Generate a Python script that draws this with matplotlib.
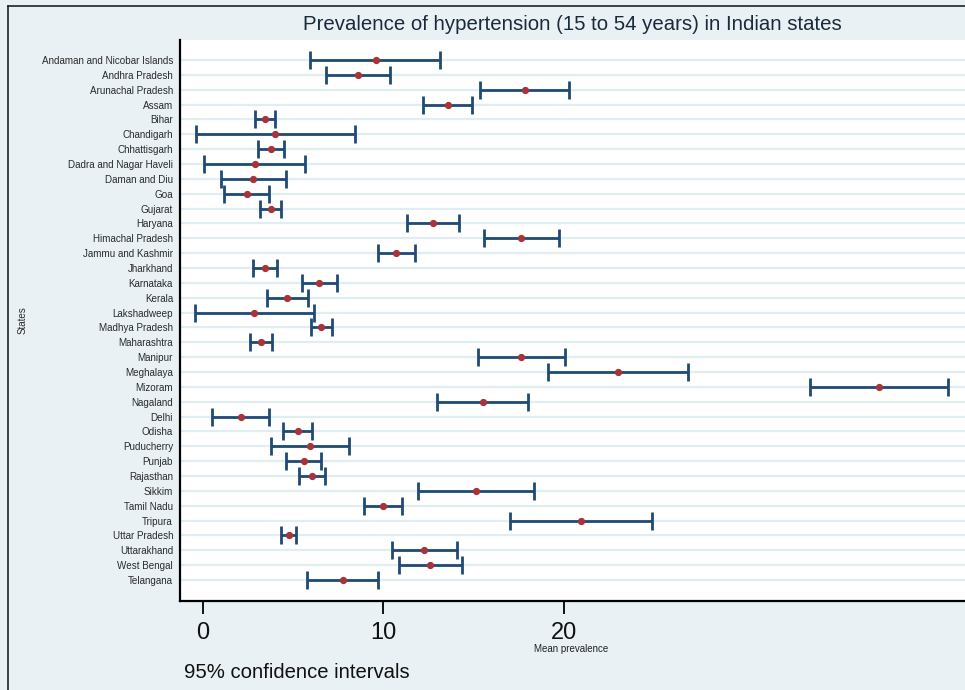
import matplotlib
matplotlib.use("Agg")
import matplotlib.pyplot as plt
from matplotlib.lines import Line2D

plt.rcParams['font.family'] = ['Liberation Sans', 'DejaVu Sans']

states = ["Andaman and Nicobar Islands", "Andhra Pradesh", "Arunachal Pradesh", "Assam",
          "Bihar", "Chandigarh", "Chhattisgarh", "Dadra and Nagar Haveli", "Daman and Diu",
          "Goa", "Gujarat", "Haryana", "Himachal Pradesh", "Jammu and Kashmir", "Jharkhand",
          "Karnataka", "Kerala", "Lakshadweep", "Madhya Pradesh", "Maharashtra", "Manipur",
          "Meghalaya", "Mizoram", "Nagaland", "Delhi", "Odisha", "Puducherry", "Punjab",
          "Rajasthan", "Sikkim", "Tamil Nadu", "Tripura", "Uttar Pradesh", "Uttarakhand",
          "West Bengal", "Telangana"]

mean = [9.58, 8.59, 17.84, 13.58, 3.46, 4.02, 3.80, 2.89, 2.80, 2.43, 3.78, 12.72,
        17.62, 10.71, 3.43, 6.45, 4.68, 2.85, 6.56, 3.21, 17.62, 22.98, 37.42, 15.50,
        2.10, 5.25, 5.93, 5.59, 6.05, 15.15, 9.97, 20.92, 4.76, 12.26, 12.59, 7.74]
lower = [5.93, 6.82, 15.34, 12.17, 2.91, -0.39, 3.06, 0.09, 1.00, 1.20, 3.17, 11.30,
         15.57, 9.70, 2.77, 5.49, 3.57, -0.41, 5.97, 2.60, 15.23, 19.10, 33.63, 12.98,
         0.53, 4.44, 3.78, 4.62, 5.33, 11.91, 8.94, 17.00, 4.31, 10.45, 10.86, 5.79]
upper = [13.16, 10.36, 20.28, 14.93, 4.02, 8.44, 4.51, 5.67, 4.59, 3.65, 4.35, 14.16,
         19.72, 11.76, 4.09, 7.44, 5.81, 6.16, 7.17, 3.82, 20.04, 26.86, 41.24, 18.03,
         3.65, 6.06, 8.09, 6.54, 6.76, 18.34, 11.01, 24.87, 5.18, 14.05, 14.33, 9.70]

x_ticks = [0, 10, 20]

title = "Prevalence of hypertension (15 to 54 years) in Indian states"
bg = "#e9f1f4"
navy = "#1f4a75"
red = "#a8333a"

fig = plt.figure(figsize=(9.65, 6.9), dpi=100)
fig.patch.set_facecolor(bg)

ax = fig.add_axes([180/965, 1 - 601/690, 1 - 180/965, (601 - 40)/690])
ax.set_facecolor("white")

ypos = list(range(len(states)))
err_lo = [m - l for m, l in zip(mean, lower)]
err_hi = [u - m for m, u in zip(mean, upper)]

ax.errorbar(mean, ypos, xerr=[err_lo, err_hi], fmt="none", ecolor=navy,
            elinewidth=2.0, capsize=6.5, capthick=2.0, zorder=3)
ax.plot(mean, ypos, "o", color=red, markersize=4.2, zorder=4)

ax.set_yticks(ypos)
ax.set_yticklabels(states, fontsize=7.1, color="#2a2a2a")
ax.tick_params(axis="y", length=0, pad=5)
ax.set_ylim(36.41, -1.35)
ax.yaxis.grid(True, color="#e0edf3", linewidth=1.6)
ax.set_axisbelow(True)

ax.set_xlim(-1.26, 42.2)
ax.set_xticks(x_ticks)
ax.set_xticklabels([str(t) for t in x_ticks], fontsize=17, color="#111111")
ax.tick_params(axis="x", length=9, width=1.3, pad=6)

for s in ["top", "right"]:
    ax.spines[s].set_visible(False)
for s in ["left", "bottom"]:
    ax.spines[s].set_color("black")
    ax.spines[s].set_linewidth(1.6)

fig.text(23/965, 1 - 320/690, "States", fontsize=7, color="#2a2a2a",
         rotation=90, ha="center", va="center")
fig.text(571/965, 1 - 649/690, "Mean prevalence", fontsize=7, color="#222222",
         ha="center", va="center")
fig.text(184/965, 1 - 673/690, "95% confidence intervals", fontsize=14.6,
         color="#111111", ha="left", va="center")
fig.text(572/965, 1 - 24/690, title, fontsize=14.65, color="#1a2a3a",
         ha="center", va="center")

# outer frame lines (left and top)
fig.add_artist(Line2D([8/965, 8/965], [0, 1 - 6/690], transform=fig.transFigure,
                      color="#222222", linewidth=1.2))
fig.add_artist(Line2D([8/965, 1], [1 - 6/690, 1 - 6/690], transform=fig.transFigure,
                      color="#222222", linewidth=1.2))

fig.savefig("out.png", dpi=100, facecolor=fig.get_facecolor())
